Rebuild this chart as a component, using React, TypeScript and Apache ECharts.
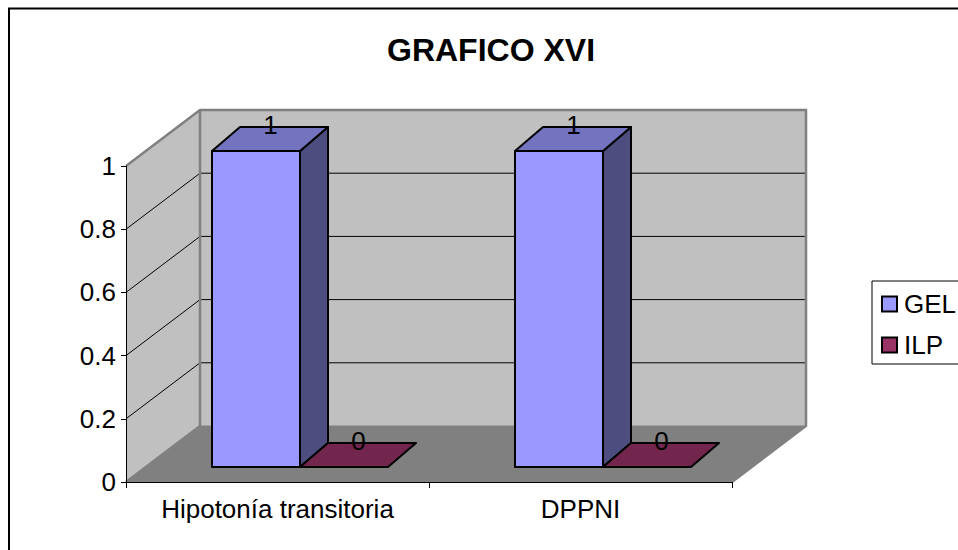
import React, { useEffect, useRef } from "react";
import * as echarts from "echarts";

const titleText = "GRAFICO XVI";
const categories = ["Hipotonía transitoria", "DPPNI"];
const gelValues = [1, 1];
const ilpValues = [0, 0];
const yTicks = [0, 0.2, 0.4, 0.6, 0.8, 1];

const FONT = '"Liberation Sans", Arial, sans-serif';
const DEPTH_X = 74;
const DEPTH_Y = -56;
const BAR_OFFSET_X = 20;
const BAR_OFFSET_Y = -15;
const BAR_DEPTH_X = 28;
const BAR_DEPTH_Y = -24;
const BAR_WIDTH = 88;
const GROUP_INSET = 66;

function wallsRenderer(_params: any, api: any) {
  const [x0, y0] = api.coord([0, 0]);
  const band = api.size([1, 0])[0];
  const left = x0 - band / 2;
  const right = left + band * categories.length;
  const yTop = api.coord([0, 1])[1];
  const wallStroke = { stroke: "#808080", lineWidth: 2.5 };
  const children: any[] = [
    {
      type: "polygon",
      shape: { points: [[left, yTop], [left + DEPTH_X, yTop + DEPTH_Y], [left + DEPTH_X, y0 + DEPTH_Y], [left, y0]] },
      style: { fill: "#C0C0C0", stroke: "none" },
    },
    {
      type: "rect",
      shape: { x: left + DEPTH_X, y: yTop + DEPTH_Y, width: right - left, height: y0 - yTop },
      style: { fill: "#C0C0C0", stroke: "none" },
    },
    {
      type: "polygon",
      shape: { points: [[left, y0], [left + DEPTH_X, y0 + DEPTH_Y], [right + DEPTH_X, y0 + DEPTH_Y], [right, y0]] },
      style: { fill: "#808080", stroke: "none" },
    },
  ];
  yTicks.forEach((t) => {
    if (t === 0 || t === 1) return;
    const y = api.coord([0, t])[1];
    children.push({
      type: "polyline",
      shape: { points: [[left, y], [left + DEPTH_X, y + DEPTH_Y], [right + DEPTH_X, y + DEPTH_Y]] },
      style: { fill: "none", stroke: "#000", lineWidth: 1 },
    });
  });
  children.push(
    {
      type: "polyline",
      shape: { points: [[left, yTop], [left + DEPTH_X, yTop + DEPTH_Y], [right + DEPTH_X, yTop + DEPTH_Y], [right + DEPTH_X, y0 + DEPTH_Y], [right, y0]] },
      style: { fill: "none", ...wallStroke },
    },
    {
      type: "polyline",
      shape: { points: [[left + DEPTH_X, yTop + DEPTH_Y], [left + DEPTH_X, y0 + DEPTH_Y], [left, y0]] },
      style: { fill: "none", ...wallStroke },
    },
    {
      type: "line",
      shape: { x1: left + DEPTH_X, y1: y0 + DEPTH_Y, x2: right + DEPTH_X, y2: y0 + DEPTH_Y },
      style: { stroke: "#808080", lineWidth: 1 },
    },
  );
  return { type: "group", children };
}

function barRenderer(seriesSlot: number, front: string, top: string, side: string) {
  return (_params: any, api: any) => {
    const cat = api.value(0);
    const val = api.value(1);
    const [cx, y0] = api.coord([cat, 0]);
    const band = api.size([1, 0])[0];
    const yv = api.coord([cat, val])[1];
    const x1 = cx - band / 2 + GROUP_INSET + BAR_OFFSET_X + seriesSlot * BAR_WIDTH;
    const x2 = x1 + BAR_WIDTH;
    const yB = y0 + BAR_OFFSET_Y;
    const yT = yv + BAR_OFFSET_Y;
    const dx = BAR_DEPTH_X;
    const dy = BAR_DEPTH_Y;
    const edge = { stroke: "#000", lineWidth: 2, lineJoin: "round" };
    const children: any[] = [];
    if (yB > yT) {
      children.push(
        { type: "polygon", shape: { points: [[x2, yT], [x2 + dx, yT + dy], [x2 + dx, yB + dy], [x2, yB]] }, style: { fill: side, ...edge } },
        { type: "rect", shape: { x: x1, y: yT, width: x2 - x1, height: yB - yT }, style: { fill: front, ...edge } },
      );
    }
    children.push({
      type: "polygon",
      shape: { points: [[x1, yT], [x1 + dx, yT + dy], [x2 + dx, yT + dy], [x2, yT]] },
      style: { fill: top, ...edge },
    });
    children.push({
      type: "text",
      x: (x1 + x2) / 2 + 14.5,
      y: yT - 26,
      style: { text: String(val), fontSize: 26, fontFamily: FONT, fill: "#000", align: "center", verticalAlign: "middle" },
    });
    return { type: "group", children };
  };
}

export default function App() {
  const ref = useRef<HTMLDivElement>(null);
  useEffect(() => {
    const chart = echarts.init(ref.current!, undefined, { renderer: "svg" });
    chart.setOption({
      animation: false,
      backgroundColor: "#fff",
      title: {
        text: titleText,
        left: 486,
        top: 29,
        textAlign: "center",
        textStyle: { fontFamily: FONT, fontSize: 32, fontWeight: "bold", color: "#000" },
      },
      legend: {
        orient: "vertical",
        left: 872,
        top: 281,
        padding: [10, 9, 6, 9],
        itemWidth: 15,
        itemHeight: 15,
        itemGap: 15,
        backgroundColor: "#fff",
        borderColor: "#000",
        borderWidth: 1,
        borderRadius: 0,
        data: [
          { name: "GEL", icon: "rect" },
          { name: "ILP", icon: "rect" },
        ],
        textStyle: { fontFamily: FONT, fontSize: 26, color: "#000", padding: [0, 0, 0, 2] },
      },
      grid: { left: 126, right: 226, top: 166, bottom: 68, containLabel: false },
      xAxis: {
        type: "category",
        data: categories,
        axisLine: { show: true, lineStyle: { color: "#000", width: 1 } },
        axisTick: { show: true, length: 6, lineStyle: { color: "#000" }, alignWithLabel: false },
        axisLabel: { fontFamily: FONT, fontSize: 26, color: "#000", margin: 14, interval: 0 },
        z: 5,
      },
      yAxis: {
        type: "value",
        min: 0,
        max: 1,
        interval: 0.2,
        axisLine: { show: true, lineStyle: { color: "#000", width: 1 } },
        axisTick: { show: true, length: 5, lineStyle: { color: "#000" } },
        axisLabel: { fontFamily: FONT, fontSize: 26, color: "#000", margin: 10 },
        splitLine: { show: false },
        z: 5,
      },
      graphic: [
        {
          type: "rect",
          z: -10,
          shape: { x: 9, y: 8.5, width: 960, height: 600 },
          style: { fill: "#fff", stroke: "#000", lineWidth: 2 },
        },
      ],
      series: [
        {
          type: "custom",
          name: "walls",
          coordinateSystem: "cartesian2d",
          clip: false,
          silent: true,
          z: 1,
          data: [[0, 0]],
          renderItem: wallsRenderer,
        },
        {
          type: "custom",
          name: "GEL",
          coordinateSystem: "cartesian2d",
          clip: false,
          z: 2,
          itemStyle: { color: "#9999FF", borderColor: "#000", borderWidth: 2 },
          data: gelValues.map((v, i) => [i, v]),
          encode: { x: 0, y: 1 },
          renderItem: barRenderer(0, "#9999FF", "#7373BF", "#4D4D80"),
        },
        {
          type: "custom",
          name: "ILP",
          coordinateSystem: "cartesian2d",
          clip: false,
          z: 3,
          itemStyle: { color: "#993366", borderColor: "#000", borderWidth: 2 },
          data: ilpValues.map((v, i) => [i, v]),
          encode: { x: 0, y: 1 },
          renderItem: barRenderer(1, "#993366", "#73264D", "#4D1A33"),
        },
      ],
    });
    return () => chart.dispose();
  }, []);
  return <div ref={ref} style={{ position: "absolute", left: 0, top: 0, width: 958, height: 550 }} />;
}
